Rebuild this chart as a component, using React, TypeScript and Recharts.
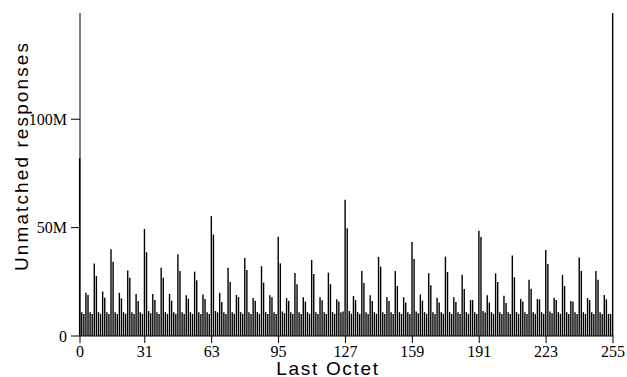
import { BarChart, Bar, XAxis, YAxis, Label } from 'recharts'

// last octet 0..255
const OCTETS = Array.from({ length: 256 }, (_, i) => i)

// unmatched responses per last octet, in millions
const RESPONSES_M = [
  82, 11, 10.2, 20.0, 18.9, 11, 10.2, 33.4, 27.7, 11, 10.2, 20.5, 17.7, 11, 10.2, 40,
  34.3, 11, 10.2, 19.9, 17.4, 11, 10.2, 30.2, 26.9, 11, 10.2, 19.4, 16.2, 11, 10.2, 49.4,
  38.6, 11.5, 10.5, 19.4, 16.6, 11, 10.2, 31.5, 26.9, 11, 10.2, 19.4, 16.3, 11, 10.2, 37.7,
  30, 11, 10.2, 18.8, 17.2, 11, 10.2, 29.7, 25.7, 11, 10.2, 19.1, 17.1, 11, 10.2, 55.3,
  46.8, 11.5, 10.9, 19.9, 15.7, 11, 10.2, 31.5, 24.9, 11, 10.2, 18.9, 18, 11, 10.2, 36,
  30.5, 11, 10.2, 17.5, 16.3, 11, 10.2, 32.2, 24.6, 11, 10.2, 18.8, 17.9, 11, 10.2, 45.8,
  33.5, 11.3, 10.5, 17.5, 16.2, 11, 10.2, 29.1, 23.9, 11, 10.2, 17.9, 15.9, 11, 10.2, 35.1,
  28.6, 11, 10.2, 17.9, 16.5, 11, 10.2, 29.2, 23.9, 11, 10.2, 16.9, 15.9, 11, 11.3, 62.9,
  49.7, 11.5, 10.3, 18.5, 16.6, 11, 10.2, 30, 24.5, 11, 10.2, 18.8, 16.2, 11, 10.2, 36.5,
  32, 11, 10.2, 18, 16.2, 11, 10.2, 30, 23.1, 11, 10.2, 17.9, 15.5, 11, 10.2, 43.4,
  35.5, 11.3, 10.5, 19.1, 16.3, 11, 10.2, 28.9, 23.4, 11, 10.2, 17.7, 15.5, 11, 10.2, 36.6,
  29.5, 11, 10.2, 17.9, 15.7, 11, 10.2, 28.2, 21.7, 11, 10.2, 16.6, 16.6, 11, 10.2, 48.6,
  45.7, 11.5, 10.8, 18.8, 15.4, 11, 10.2, 28.9, 24.9, 11, 10.2, 18.6, 15.2, 11, 10.2, 37.1,
  27.1, 11, 10.2, 17.1, 15.9, 11, 10.2, 26, 21.8, 11, 10.2, 17.1, 16.9, 11, 10.2, 39.7,
  33.2, 11.3, 10.5, 17.7, 16.6, 11, 10.2, 28.2, 23.1, 11, 10.2, 16.2, 15.9, 11, 10.2, 36.2,
  30, 11, 10.2, 17.5, 16.6, 11, 10.2, 30, 25.9, 11, 10.2, 18.9, 16.9, 10.2, 10.2, 149,
]

const X_TICKS = [0, 31, 63, 95, 127, 159, 191, 223, 255]
const Y_TICKS = [0, 50e6, 100e6]
const Y_MAX = 149e6

const data = OCTETS.map((octet, i) => ({ octet, responses: RESPONSES_M[i] * 1e6 }))

const fmtM = (v: number) => (v === 0 ? '0' : `${v / 1e6}M`)

const tickStyle = { fill: '#000', fontSize: 16, fontFamily: '"Liberation Serif", serif' }
const titleFont = '"Liberation Sans", Arial, sans-serif'

export default function App() {
  return (
    <div style={{ position: 'fixed', left: 0, top: 0, background: '#fff' }}>
      <BarChart
        width={627}
        height={377}
        data={data}
        margin={{ top: 13, right: 14, bottom: 11, left: 0 }}
      >
        <XAxis
          dataKey="octet"
          type="number"
          domain={[0, 255]}
          ticks={X_TICKS}
          interval={0}
          height={30}
          tickSize={7}
          tickMargin={3}
          stroke="#000"
          tick={tickStyle}
        >
          <Label
            content={() => (
              <text x={328} y={375} textAnchor="middle" fontSize={19} letterSpacing={1.7}
                fontFamily={titleFont} fill="#000">
                Last Octet
              </text>
            )}
          />
        </XAxis>
        <YAxis
          width={80}
          domain={[0, Y_MAX]}
          allowDataOverflow
          ticks={Y_TICKS}
          interval={0}
          tickFormatter={fmtM}
          tickSize={9}
          tickMargin={4}
          stroke="#000"
          tick={tickStyle}
        >
          <Label
            content={() => (
              <text x={0} y={0} transform="translate(27.5,156) rotate(-90)" textAnchor="middle"
                fontSize={19} letterSpacing={2.1} fontFamily={titleFont} fill="#000">
                Unmatched responses
              </text>
            )}
          />
        </YAxis>
        <Bar dataKey="responses" fill="#000" barSize={1.4} isAnimationActive={false} />
      </BarChart>
    </div>
  )
}
